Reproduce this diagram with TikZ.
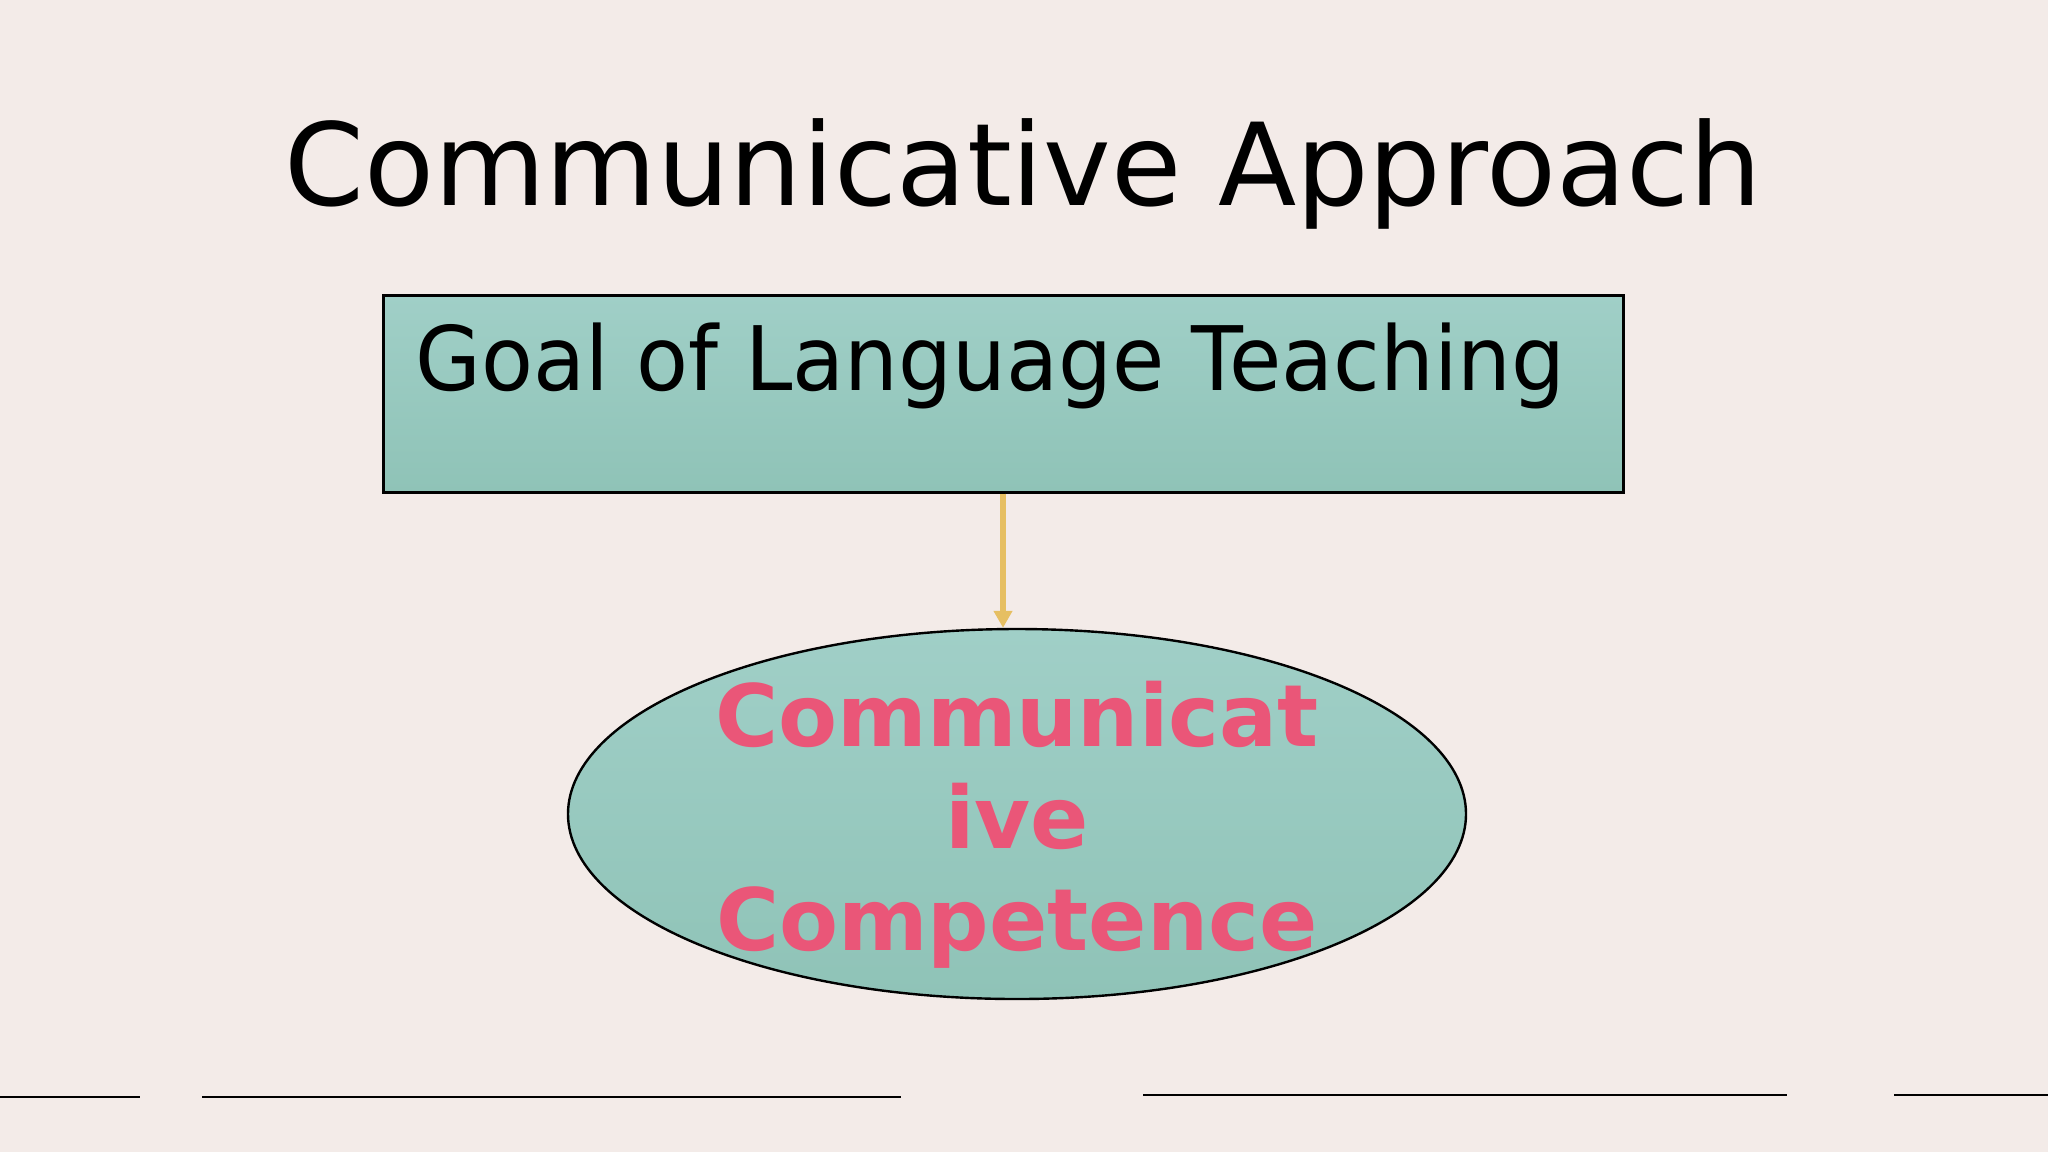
\documentclass[tikz,border=0pt]{standalone}
\usepackage{fontspec}
\setmainfont{DejaVu Sans}
\newfontfamily\goalfont[FakeStretch=0.955]{DejaVu Sans}
\usetikzlibrary{shapes.geometric,arrows.meta}

\definecolor{paper}{HTML}{F3EBE8}
\definecolor{tealtop}{HTML}{A0CFC7}
\definecolor{tealbot}{HTML}{8FC3B7}
\definecolor{gold}{HTML}{E6BF62}
\definecolor{rose}{HTML}{EA5678}

\tikzset{
    goalbox/.style={draw=black, line width=1.5pt, rectangle, inner sep=0pt,
        top color=tealtop, bottom color=tealbot},
    compoval/.style={draw=black, line width=1.2pt, ellipse, inner sep=0pt,
        top color=tealtop, bottom color=tealbot},
}

\begin{document}
\begin{tikzpicture}[x=0.5pt, y=-0.5pt]
    \useasboundingbox[fill=paper] (0,0) rectangle (2048,1152);

    \coordinate (L1) at (0, 1097);
    \coordinate (L2) at (140, 1097);
    \coordinate (L3) at (202, 1097);
    \coordinate (L4) at (901, 1097);
    \coordinate (R1) at (1143, 1095);
    \coordinate (R2) at (1787, 1095);
    \coordinate (R3) at (1894, 1095);
    \coordinate (R4) at (2048, 1095);

    \node (title) at (1023, 174) {\fontsize{57.2}{68}\selectfont Communicative Approach};

    \node[goalbox, minimum width=620pt, minimum height=98.5pt] (goal) at (1003, 393.5) {};
    \node[anchor=base west, font=\goalfont\fontsize{44.5}{53}\selectfont] (goaltext)
        at ([xshift=13.5pt, yshift=-48.5pt]goal.north west) {Goal of Language Teaching};

    \node[compoval, minimum width=449pt, minimum height=185pt] (comp) at (1017, 814) {};
    \node[align=center, text=rose, font=\bfseries\fontsize{43}{51}\selectfont] (comptext)
        at (1017, 825) {Communicat\\ive\\Competence};

    \draw[gold, line width=3pt, -{Triangle[length=8.5pt, width=9pt]}] (goal.south) -- (goal.south |- comp.north); % goal to competence

    \draw[line width=1.3pt] (L1) -- (L2); % bottom left
    \draw[line width=1.3pt] (L3) -- (L4);
    \draw[line width=1.3pt] (R1) -- (R2); % bottom right
    \draw[line width=1.3pt] (R3) -- (R4);
\end{tikzpicture}
\end{document}
